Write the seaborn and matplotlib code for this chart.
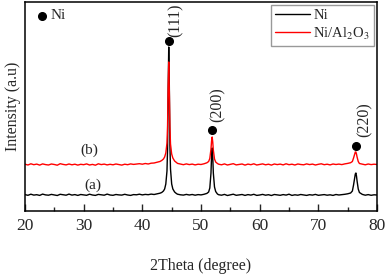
import numpy as np
import pandas as pd
import matplotlib
matplotlib.use('Agg')
import matplotlib.pyplot as plt
import seaborn as sns

# Sudut 2Theta (derajat): grid kasar di latar, rapat di sekitar puncak
two_theta = np.concatenate([
    np.arange(20.0, 43.01, 0.5),
    [43.3, 43.6, 43.8, 44.0, 44.2, 44.3, 44.4, 44.5, 44.6, 44.7, 44.8, 45.0, 45.2, 45.5, 45.8],
    np.arange(46.0, 51.01, 0.5),
    [51.3, 51.5, 51.7, 51.8, 51.9, 52.0, 52.1, 52.3, 52.5, 52.8],
    np.arange(53.0, 75.51, 0.5),
    [75.8, 76.0, 76.2, 76.3, 76.4, 76.5, 76.6, 76.8, 77.0],
    np.arange(77.5, 80.01, 0.5),
])

# Intensitas (a.u) kurva (a) Ni
ni = [
    16.4, 15.7, 16.8, 15.9, 16.3, 15.6, 16.9, 16.1, 15.8, 16.6,
    16.0, 15.5, 16.7, 16.2, 15.8, 16.9, 15.9, 16.4, 15.6, 16.5,
    16.1, 15.7, 16.8, 16.0, 15.6, 16.6, 16.2, 15.8, 16.9, 16.0,
    15.7, 16.5, 16.1, 15.9, 16.7, 16.0, 15.6, 16.4, 16.2, 16.8,
    16.1, 16.6, 16.3, 16.9, 16.5, 17.2, 17.8,
    18.5, 20, 22, 27, 40, 62, 120, 164, 125, 66, 42, 27, 22, 19, 17.5,
    16.8, 16.2, 15.9, 16.6, 16.0, 16.5, 15.8, 16.4, 16.1, 16.7, 17.6,
    19, 23, 38, 55, 63, 54, 38, 24, 19.5, 17,
    16.3, 15.8, 16.6, 15.5, 16.2, 16.8, 15.7, 16.1, 16.5, 15.6,
    16.4, 15.9, 16.7, 15.6, 16.0, 16.6, 15.8, 16.3, 15.5, 16.5,
    16.1, 15.7, 16.4, 15.9, 16.8, 15.6, 16.2, 15.8, 16.5, 16.0,
    15.6, 16.3, 15.9, 16.6, 15.7, 16.1, 16.4, 15.8, 16.2, 15.6,
    16.5, 16.0, 16.3, 16.7, 17.2, 18.0,
    20, 26, 33, 37, 38, 35, 30, 22, 18.5,
    16.6, 15.8, 16.4, 15.7, 16.2, 16.0,
]

# Intensitas (a.u) kurva (b) Ni/Al2O3
ni_al2o3 = [
    46.8, 46.0, 47.2, 46.3, 46.9, 45.9, 47.1, 46.4, 46.0, 47.0,
    46.5, 45.8, 47.3, 46.6, 46.1, 47.0, 46.2, 46.8, 45.9, 46.7,
    46.3, 47.1, 46.0, 46.6, 45.8, 47.2, 46.4, 46.9, 46.1, 46.7,
    46.2, 47.0, 46.5, 45.9, 46.8, 46.3, 47.1, 46.6, 46.9, 47.3,
    46.8, 47.5, 47.0, 47.8, 48.0, 48.8, 49.5,
    50.5, 52, 54, 58, 68, 85, 125, 149, 120, 84, 67, 57, 53, 50, 48.5,
    47.6, 46.9, 46.3, 47.1, 46.4, 46.9, 46.1, 46.8, 46.5, 47.2, 48.2,
    49.5, 52.5, 62, 70, 74, 69, 61, 52, 49, 47.5,
    46.8, 46.2, 47.1, 46.0, 46.7, 47.3, 46.1, 46.6, 47.0, 45.9,
    46.9, 46.3, 47.2, 46.0, 46.5, 47.1, 46.2, 46.8, 45.9, 47.0,
    46.4, 46.9, 46.1, 47.2, 46.3, 46.8, 46.0, 47.0, 46.5, 46.2,
    47.1, 46.4, 46.9, 46.0, 46.7, 47.2, 46.3, 46.8, 46.1, 47.0,
    46.5, 46.9, 46.4, 47.1, 47.6, 48.3,
    49.5, 53, 57, 59, 59, 57, 54, 49.5, 47.5,
    46.9, 46.2, 47.0, 46.4, 46.8, 46.5,
]

# Puncak Ni (hkl)
peak_pos = [44.5, 51.9, 76.4]
peak_dot = [170, 81, 65]
peak_hkl = ['(111)', '(200)', '(220)']
label_pos = [45.6, 52.9, 77.95]
label_base = [174, 89, 74]

data = pd.DataFrame({'2Theta': two_theta, 'Ni': ni, 'Ni/Al$_2$O$_3$': ni_al2o3})
data_long = data.melt(id_vars='2Theta', var_name='Sampel', value_name='Intensitas')

sns.set_style('ticks')
plt.rcParams['font.family'] = ['Liberation Serif', 'DejaVu Serif']
plt.rcParams['mathtext.fontset'] = 'stix'

fig = plt.figure(figsize=(3.87, 2.76), dpi=100)
ax = fig.add_axes([0.0646, 0.2355, 0.9096, 0.7573])

sns.lineplot(data=data_long, x='2Theta', y='Intensitas', hue='Sampel',
             palette=['black', 'red'], estimator=None, linewidth=1.0, ax=ax)

# Penanda puncak
ax.plot(peak_pos, peak_dot, 'o', color='black', markersize=5.5)
for x, y, t in zip(label_pos, label_base, peak_hkl):
    ax.text(x, y, t, rotation=90, ha='center', va='bottom', fontsize=11.5)

ax.plot([22.9], [195], 'o', color='black', markersize=5.5)
ax.text(24.4, 195, 'Ni', ha='left', va='center', fontsize=11)
ax.text(31.0, 61, '(b)', ha='center', va='center', fontsize=11)
ax.text(31.5, 26, '(a)', ha='center', va='center', fontsize=11)

ax.set_xlim(20, 80)
ax.set_ylim(0, 209)
ax.set_xticks([20, 30, 40, 50, 60, 70, 80])
ax.set_xticks(np.arange(25, 80, 10), minor=True)
ax.set_yticks([])
ax.tick_params(axis='x', which='major', direction='in', length=5, width=1, labelsize=12.5, pad=5)
ax.tick_params(axis='x', which='minor', direction='in', length=3, width=1)
for s in ax.spines.values():
    s.set_linewidth(1.1)
    s.set_color('black')

ax.set_xlabel('2Theta (degree)', fontsize=11.5, labelpad=17)
ax.set_ylabel('Intensity (a.u)', fontsize=11.5, labelpad=3)

ax.legend(loc='upper right', fontsize=10.5, frameon=True, fancybox=False,
          edgecolor='gray', borderaxespad=0.2, handlelength=2.4,
          labelspacing=0.2, borderpad=0.3, handletextpad=0.2)

plt.savefig('out.png', dpi=100)
